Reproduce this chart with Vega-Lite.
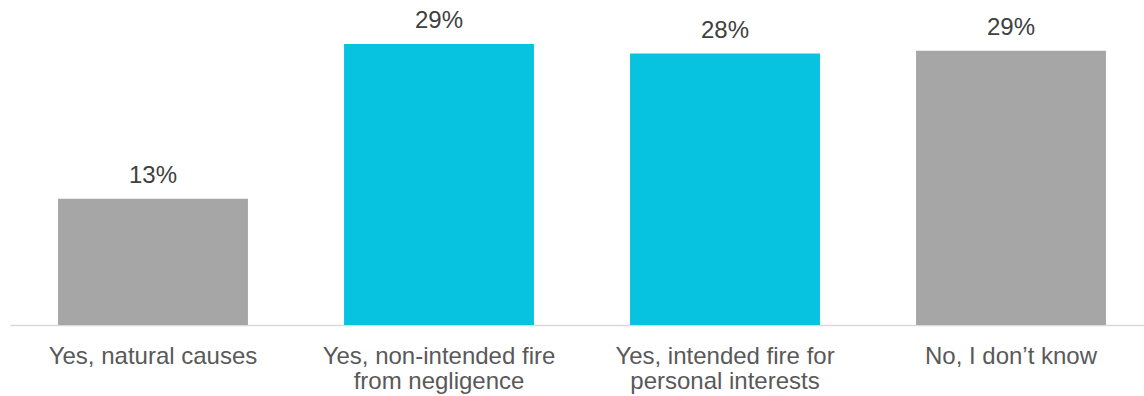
{
  "$schema": "https://vega.github.io/schema/vega-lite/v6.json",
  "autosize": "none",
  "width": 1144,
  "height": 325,
  "padding": {"left": 10, "top": 0, "right": 0, "bottom": 71},
  "background": "white",
  "config": {"view": {"stroke": null}, "font": "Liberation Sans"},
  "data": {
    "values": [
      {"category": "Yes, natural causes", "value": 13.2, "label": "13%", "group": "grey"},
      {"category": "Yes, non-intended fire from negligence", "value": 29.4, "label": "29%", "group": "blue"},
      {"category": "Yes, intended fire for personal interests", "value": 28.4, "label": "28%", "group": "blue"},
      {"category": "No, I don’t know", "value": 28.7, "label": "29%", "group": "grey"}
    ]
  },
  "encoding": {
    "x": {
      "field": "category",
      "type": "nominal",
      "sort": null,
      "scale": {"paddingInner": 0.336, "paddingOuter": 0.168},
      "axis": {
        "title": null,
        "labelAngle": 0,
        "ticks": false,
        "domainColor": "#D9D9D9",
        "domainWidth": 1.5,
        "labelFont": "Liberation Sans",
        "labelFontSize": 24,
        "labelColor": "#595959",
        "labelPadding": 19,
        "labelLineHeight": 25,
        "labelLimit": 0,
        "labelExpr": "datum.value == 'Yes, non-intended fire from negligence' ? ['Yes, non-intended fire', 'from negligence'] : datum.value == 'Yes, intended fire for personal interests' ? ['Yes, intended fire for', 'personal interests'] : datum.value"
      }
    },
    "y": {
      "field": "value",
      "type": "quantitative",
      "scale": {"domain": [0, 34], "nice": false},
      "axis": null
    }
  },
  "layer": [
    {
      "mark": {"type": "bar"},
      "encoding": {
        "color": {
          "field": "group",
          "type": "nominal",
          "scale": {"domain": ["grey", "blue"], "range": ["#A6A6A6", "#07C3DF"]},
          "legend": null
        }
      }
    },
    {
      "mark": {"type": "text", "baseline": "alphabetic", "dy": -16, "fontSize": 24, "font": "Liberation Sans", "color": "#404040"},
      "encoding": {"text": {"field": "label"}}
    }
  ]
}
